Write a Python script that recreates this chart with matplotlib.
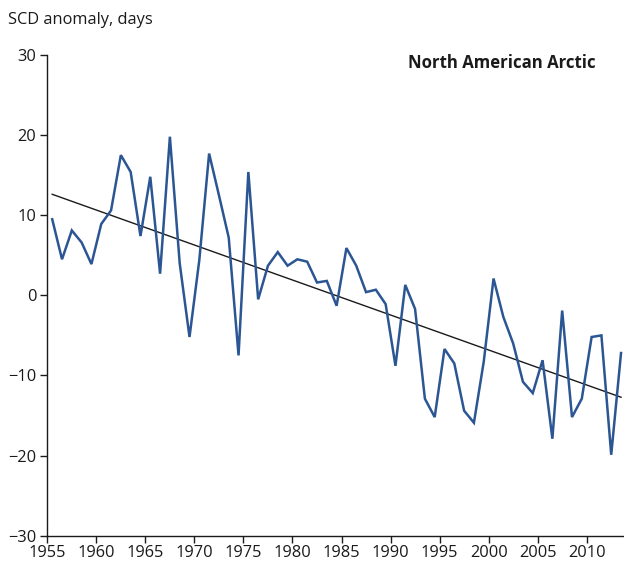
import matplotlib
matplotlib.use("Agg")
import matplotlib.pyplot as plt
import numpy as np

# snow cover duration anomaly, North American Arctic (one value per season)
years = list(range(1955, 2014))
scd_anomaly = [
    9.5, 4.5, 8.1, 6.6, 3.9, 8.9, 10.6, 17.5, 15.4, 7.4,
    14.8, 2.7, 19.8, 4.0, -5.2, 4.4, 17.7, 12.5, 7.2, -7.5,
    15.4, -0.5, 3.7, 5.4, 3.7, 4.5, 4.2, 1.6, 1.8, -1.3,
    5.9, 3.7, 0.4, 0.7, -1.1, -8.8, 1.3, -1.7, -12.9, -15.2,
    -6.7, -8.5, -14.4, -15.9, -8.3, 2.1, -2.7, -6.0, -10.8, -12.2,
    -8.1, -17.9, -1.9, -15.2, -12.9, -5.2, -5.0, -19.9, -7.2,
]
xticks = list(range(1955, 2015, 5))
yticks = list(range(-30, 31, 10))

plt.rcParams['font.family'] = ['Open Sans', 'DejaVu Sans']

fig = plt.figure(figsize=(6.24, 5.64), dpi=100)
ax = fig.add_axes([0.0758, 0.0502, 0.9273, 0.8523])

# seasons are drawn centred between the year ticks
x = np.array(years) + 0.5
y = np.array(scd_anomaly)

ax.plot(x, y, color='#2b5693', lw=1.8, solid_joinstyle='miter', zorder=3)

# linear trend
coef = np.polyfit(x, y, 1)
ax.plot([x[0], x[-1]], np.polyval(coef, [x[0], x[-1]]), color='#1a1a1a', lw=1.0, zorder=2)

ax.set_xlim(1955, 2014)
ax.set_ylim(-30, 30)
ax.set_xticks(xticks)
ax.set_yticks(yticks)
ax.tick_params(direction='out', length=5, width=1.0, labelsize=11.8, colors='#1a1a1a', pad=2)
ax.tick_params(axis='y', pad=3)

for s in ['top', 'right']:
    ax.spines[s].set_visible(False)
for s in ['left', 'bottom']:
    ax.spines[s].set_linewidth(1.0)
    ax.spines[s].set_color('#1a1a1a')

fig.text(0.013, 0.965, 'SCD anomaly, days', fontsize=11.8, color='#1a1a1a', va='center', ha='left')
fig.text(0.955, 0.888, 'North American Arctic', fontsize=12.1, fontweight='bold',
         color='#1a1a1a', va='center', ha='right')

fig.savefig('out.png', dpi=100)
